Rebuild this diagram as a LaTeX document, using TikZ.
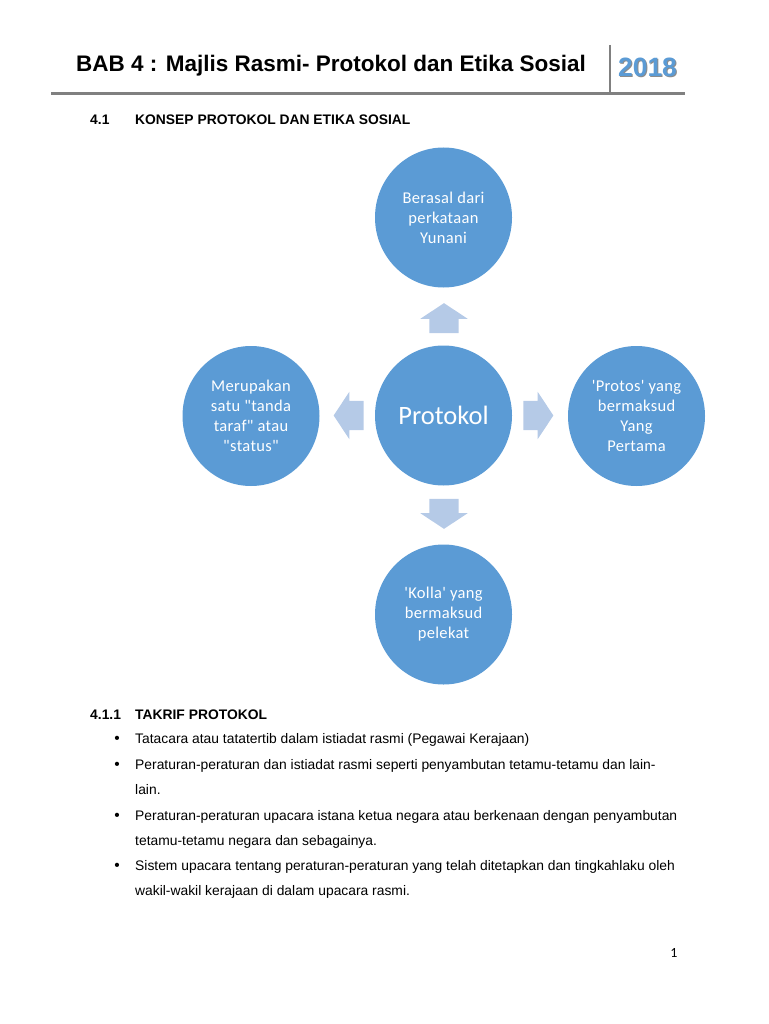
\documentclass[tikz,border=0pt]{standalone}
\usepackage{fontspec}
\setmainfont{Liberation Sans}
\newfontfamily\calibrifont{Carlito}
\usetikzlibrary{shapes.arrows,shapes.geometric}
\definecolor{circleblue}{HTML}{5B9BD5}
\definecolor{arrowblue}{HTML}{B5CAE7}
\definecolor{rulegray}{HTML}{808080}
\tikzset{
  topic/.style={ellipse,fill=circleblue,minimum width=137pt,minimum height=140pt,inner sep=0pt,text=white,align=center,
    font=\calibrifont\fontsize{16.5}{20}\selectfont\addfontfeature{LetterSpace=2}},
  pointer/.style={single arrow,fill=arrowblue,minimum height=30pt,inner sep=0pt,text width=1pt,
    text height=14.5pt,text depth=14.5pt,single arrow head extend=9pt,single arrow tip angle=113},
  line/.style={anchor=base west,inner sep=0pt,font=\fontsize{13.85}{16}\selectfont},
  heading/.style={line,font=\fontsize{13.85}{16}\selectfont\bfseries},
  dot/.style={anchor=base,inner sep=0pt,font=\fontsize{15.5}{16}\selectfont}
}
\begin{document}
\begin{tikzpicture}[x=1pt,y=-1pt]
  \useasboundingbox (0,0) rectangle (768,1024);
  \draw[rulegray,line width=2.5pt] (51,93.5) -- (685,93.5);
  \draw[rulegray,line width=2.5pt] (610,45) -- (610,93.5);
  \node[anchor=base west,inner sep=0pt,font=\fontsize{22.5}{26}\selectfont\bfseries] (title) at (76,72) {BAB 4 : Majlis Rasmi- Protokol dan Etika Sosial};
  \node[anchor=base,inner sep=0pt,text=black!45,font=\fontsize{26.5}{28}\selectfont\bfseries] (yearshadow) at (648.5,78) {2018};
  \node[anchor=base,inner sep=0pt,text=circleblue,font=\fontsize{26.5}{28}\selectfont\bfseries] (year) at (647.5,77) {2018};

  \node[heading] (secnum) at (90,124.5) {4.1};
  \node[heading] (sectitle) at (135,124.5) {KONSEP PROTOKOL DAN ETIKA SOSIAL};

  \node[topic,font=\calibrifont\fontsize{26.5}{30}\selectfont] (center) at (443.5,415.5) {Protokol};
  \node[topic] (top) at (443.5,217.5) {Berasal dari\\perkataan\\Yunani};
  \node[topic] (left) at (251,416) {Merupakan\\satu "tanda\\taraf" atau\\"status"};
  \node[topic] (right) at (636.5,416) {'Protos' yang\\bermaksud\\Yang\\Pertama};
  \node[topic] (bottom) at (443.5,614.5) {'Kolla' yang\\bermaksud\\pelekat};

  \node[pointer,rotate=90] (toparrow) at (444,323) {};
  \node[pointer,rotate=180] (leftarrow) at (353.5,415.5) {};
  \node[pointer] (rightarrow) at (533.5,415.5) {};
  \node[pointer,rotate=270] (bottomarrow) at (444,509) {};

  \node[heading] (subnum) at (90,719) {4.1.1};
  \node[heading] (subtitle) at (135,719) {TAKRIF PROTOKOL};
  \node[dot] (dota) at (117,743.5) {\textbullet};
  \node[line] (linea) at (135,743) {Tatacara atau tatatertib dalam istiadat rasmi (Pegawai Kerajaan)};
  \node[dot] (dotb) at (117,769.5) {\textbullet};
  \node[line] (lineb) at (135,769) {Peraturan-peraturan dan istiadat rasmi seperti penyambutan tetamu-tetamu dan lain-};
  \node[line] (linec) at (135,794) {lain.};
  \node[dot] (dotc) at (117,820.5) {\textbullet};
  \node[line] (lined) at (135,820) {Peraturan-peraturan upacara istana ketua negara atau berkenaan dengan penyambutan};
  \node[line] (linee) at (135,845) {tetamu-tetamu negara dan sebagainya.};
  \node[dot] (dotd) at (117,870.5) {\textbullet};
  \node[line] (linef) at (135,870) {Sistem upacara tentang peraturan-peraturan yang telah ditetapkan dan tingkahlaku oleh};
  \node[line] (lineg) at (135,895) {wakil-wakil kerajaan di dalam upacara rasmi.};
  \node[anchor=base,inner sep=0pt,font=\calibrifont\fontsize{14}{16}\selectfont] (page) at (674,957) {1};
\end{tikzpicture}
\end{document}
